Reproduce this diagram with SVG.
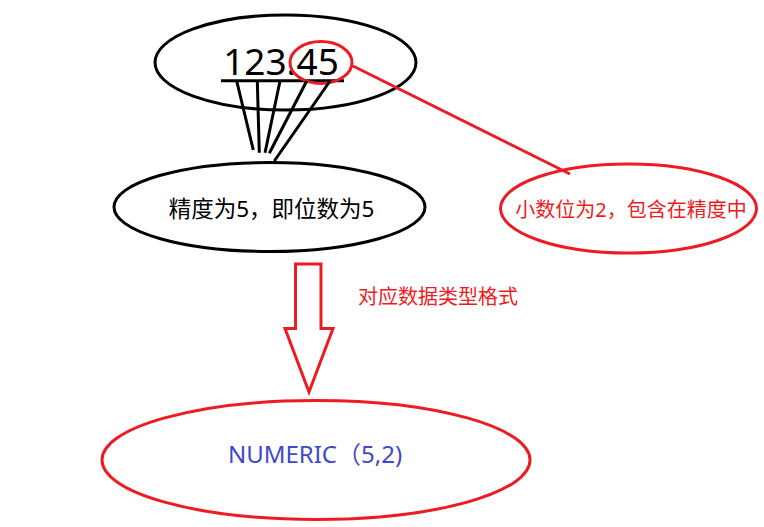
<svg xmlns="http://www.w3.org/2000/svg" width="764" height="527" viewBox="0 0 764 527">
<style>
.blk{fill:none;stroke:#000;stroke-width:3}
.red{fill:none;stroke:#ed1c24;stroke-width:3}
.t{font-family:"Noto Sans","Noto Sans CJK SC",sans-serif;text-anchor:middle}
</style>
<rect width="764" height="527" fill="#fff"/>
<g id="value">
<ellipse class="blk" cx="285.5" cy="62.5" rx="130.5" ry="47.5"/>
<text class="t" x="281" y="75" font-size="37" fill="#000">123.45</text>
<line class="blk" x1="221" y1="80.7" x2="344" y2="80.7"/>
<ellipse class="red" cx="321" cy="62.5" rx="31" ry="21"/>
</g>
<g id="precision">
<ellipse class="blk" cx="269.5" cy="207" rx="155.5" ry="44.5"/>
<text class="t" x="271.5" y="216.5" font-size="22.5" fill="#000">精度为5，即位数为5</text>
</g>
<g id="scale">
<ellipse class="red" cx="628.5" cy="208.5" rx="128" ry="44.5"/>
<text class="t" x="631" y="216.5" font-size="20" fill="#ed1c24">小数位为2，包含在精度中</text>
</g>
<g id="numeric">
<ellipse class="red" cx="316" cy="460" rx="214" ry="59.5"/>
<text class="t" x="315" y="463" font-size="24" fill="#3f48cc">NUMERIC（5,2)</text>
</g>
<g id="connectors">
<line class="blk" x1="236.7" y1="81" x2="253.3" y2="150"/>
<line class="blk" x1="257.3" y1="81" x2="259.3" y2="152.7"/>
<line class="blk" x1="280" y1="81" x2="265" y2="152.7"/>
<line class="blk" x1="306.7" y1="81" x2="269.3" y2="153.3"/>
<line class="blk" x1="330" y1="81" x2="274.3" y2="161"/>
<line class="red" x1="353" y1="66" x2="570" y2="174"/>
<polygon class="red" points="295.5,264 321,264 321,328.5 333,328.5 309,392 285,328.5 295.5,328.5"/>
<text class="t" x="438" y="304" font-size="20" fill="#ed1c24">对应数据类型格式</text>
</g>
</svg>
